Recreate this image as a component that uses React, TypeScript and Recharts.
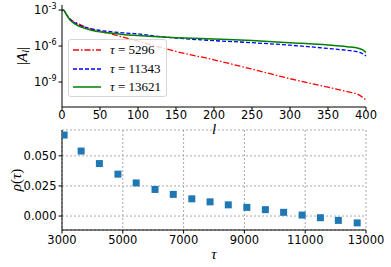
import React from 'react';
import {
  LineChart,
  Line,
  ScatterChart,
  Scatter,
  XAxis,
  YAxis,
  CartesianGrid,
  Legend
} from 'recharts';

// top panel: |A_l| against l, values kept as log10 exponents
const ELL = [0, 2, 5, 10, 15, 20, 30, 40, 50, 60, 80, 100, 120, 150, 200, 250, 300, 350, 375, 390, 395, 400];
const LOG_A_5296 = [-3.05, -3.0, -3.25, -3.7, -3.95, -4.1, -4.39, -4.6, -4.78, -4.92, -5.25, -5.6, -5.95, -6.45, -7.15, -7.92, -8.72, -9.43, -9.8, -10.05, -10.25, -10.5];
const LOG_A_11343 = [-3.05, -3.0, -3.3, -3.75, -4.0, -4.18, -4.43, -4.6, -4.7, -4.78, -4.9, -4.99, -5.15, -5.33, -5.55, -5.72, -5.93, -6.2, -6.36, -6.5, -6.62, -6.83];
const LOG_A_13621 = [-3.05, -3.0, -3.3, -3.8, -4.08, -4.27, -4.53, -4.7, -4.82, -4.9, -5.03, -5.12, -5.2, -5.3, -5.42, -5.54, -5.72, -5.91, -6.05, -6.18, -6.3, -6.53];
const L_TICKS = [0, 50, 100, 150, 200, 250, 300, 350, 400];
const A_TICKS = [1e-9, 1e-6, 1e-3];

// bottom panel: rho(tau)
const TAU = [3070, 3630, 4230, 4840, 5440, 6060, 6660, 7270, 7870, 8470, 9080, 9690, 10290, 10900, 11500, 12090, 12710];
const RHO = [0.0673, 0.054, 0.0436, 0.0348, 0.0275, 0.0221, 0.018, 0.0143, 0.0118, 0.0093, 0.0072, 0.0053, 0.0031, 0.0008, -0.0014, -0.0036, -0.0057];
const TAU_TICKS = [3000, 5000, 7000, 9000, 11000, 13000];
const RHO_TICKS = [0, 0.025, 0.05];

const SERIES = [
  { key: 't5296', label: '5296', color: '#ff0000', dash: '6 2 1.5 2', width: 1.3, exps: LOG_A_5296 },
  { key: 't11343', label: '11343', color: '#0000ff', dash: '4 2', width: 1.3, exps: LOG_A_11343 },
  { key: 't13621', label: '13621', color: '#008000', dash: undefined, width: 1.5, exps: LOG_A_13621 },
];

const topData = ELL.map((l, i) => {
  const row: any = { l };
  SERIES.forEach(s => { row[s.key] = Math.pow(10, s.exps[i]); });
  return row;
});

const bottomData = TAU.map((tau, i) => ({ tau, rho: RHO[i] }));

const TICK_FONT = { fontSize: 11.5, fill: '#000', fontFamily: 'DejaVu Sans' };
const MATH_FONT = 'Liberation Serif';

const LogTick = (props: any) => {
  const { x, y, payload } = props;
  const exp = Math.round(Math.log10(payload.value));
  return (
    <text x={x} y={y + 4} textAnchor="end" fontFamily="DejaVu Sans" fill="#000" fontSize={11.5}>
      <tspan>10</tspan>
      <tspan dy={-5} fontSize={8}>{'-' + Math.abs(exp)}</tspan>
    </text>
  );
};

const VLabel = (props: any) => {
  const { viewBox, dx, children } = props;
  const cx = viewBox.x + dx;
  const cy = viewBox.y + viewBox.height / 2;
  return (
    <text
      x={cx}
      y={cy}
      transform={`rotate(-90 ${cx} ${cy})`}
      textAnchor="middle"
      dominantBaseline="central"
      fontFamily={MATH_FONT}
      fontSize={15}
      fill="#000"
    >
      {children}
    </text>
  );
};

const LegendBox = () => (
  <div
    style={{
      border: '1px solid #d6d6d6',
      borderRadius: 3,
      background: 'rgba(255,255,255,0.8)',
      width: 99,
      height: 58,
      paddingTop: 1,
      boxSizing: 'border-box',
    }}
  >
    {SERIES.map(s => (
      <div key={s.key} style={{ display: 'flex', alignItems: 'center', height: 18.4 }}>
        <svg width={32} height={6} style={{ display: 'block' }}>
          <line x1={4} x2={32} y1={3} y2={3} stroke={s.color} strokeWidth={s.width} strokeDasharray={s.dash} />
        </svg>
        <span style={{ marginLeft: 9, fontFamily: MATH_FONT, fontSize: 13, color: '#000', whiteSpace: 'nowrap' }}>
          <i>τ</i> = {s.label}
        </span>
      </div>
    ))}
  </div>
);

const Square = (props: any) => {
  const { cx, cy } = props;
  return <rect x={cx - 3.5} y={cy - 3.5} width={7} height={7} fill="#1f77b4" />;
};

export default function App() {
  return (
    <div style={{ position: 'absolute', left: 0, top: 0, width: 391, height: 267, background: '#fff' }}>
      <div style={{ position: 'absolute', left: 0, top: 120 }}>
        <ScatterChart width={391} height={147} margin={{ top: 10, right: 25, bottom: 17, left: 0 }}>
          <CartesianGrid strokeDasharray="2 2" stroke="#a8a8a8" />
          <XAxis
            dataKey="tau"
            type="number"
            domain={[3000, 13000]}
            ticks={TAU_TICKS}
            allowDataOverflow
            height={20}
            tickSize={3.5}
            tickMargin={2}
            tick={TICK_FONT}
            stroke="#000"
            label={{ value: 'τ', position: 'bottom', offset: -2, style: { fontFamily: MATH_FONT, fontStyle: 'italic', fontSize: 15, fill: '#000' } }}
          />
          <XAxis xAxisId="top" orientation="top" dataKey="tau" type="number" domain={[3000, 13000]} height={0} tick={false} tickLine={false} stroke="#000" />
          <YAxis
            dataKey="rho"
            type="number"
            domain={[-0.0116, 0.0715]}
            ticks={RHO_TICKS}
            allowDataOverflow
            width={62}
            tickSize={3.5}
            tickMargin={2}
            tick={TICK_FONT}
            tickFormatter={(v: number) => v.toFixed(3)}
            stroke="#000"
            label={<VLabel dx={16}><tspan fontStyle="italic">ρ</tspan>(<tspan fontStyle="italic">τ</tspan>)</VLabel>}
          />
          <YAxis yAxisId="right" orientation="right" width={0} tick={false} tickLine={false} stroke="#000" />
          <Scatter data={bottomData} shape={<Square />} isAnimationActive={false} />
        </ScatterChart>
      </div>
      <div style={{ position: 'absolute', left: 0, top: 0 }}>
        <LineChart width={391} height={140} data={topData} margin={{ top: 5, right: 25, bottom: 15, left: 0 }}>
          <XAxis
            dataKey="l"
            type="number"
            domain={[0, 400]}
            ticks={L_TICKS}
            height={18}
            tickSize={3.5}
            tickMargin={0}
            tick={TICK_FONT}
            stroke="#000"
            label={{ value: 'l', position: 'bottom', offset: -2, style: { fontFamily: MATH_FONT, fontStyle: 'italic', fontSize: 15, fill: '#000' } }}
          />
          <XAxis xAxisId="top" orientation="top" dataKey="l" type="number" domain={[0, 400]} height={0} tick={false} tickLine={false} stroke="#000" />
          <YAxis
            scale="log"
            type="number"
            domain={[Math.pow(10, -11.08), Math.pow(10, -2.58)]}
            ticks={A_TICKS}
            allowDataOverflow
            width={62}
            tickSize={3.5}
            tickMargin={2}
            tick={<LogTick />}
            stroke="#000"
            label={
              <VLabel dx={22}>
                |<tspan fontStyle="italic">A</tspan>
                <tspan fontStyle="italic" fontSize={10} dy={3}>l</tspan>
                <tspan dy={-3}>|</tspan>
              </VLabel>
            }
          />
          <YAxis yAxisId="right" orientation="right" width={0} tick={false} tickLine={false} stroke="#000" />
          {SERIES.map(s => (
            <Line
              key={s.key}
              dataKey={s.key}
              type="monotone"
              stroke={s.color}
              strokeWidth={s.width}
              strokeDasharray={s.dash}
              dot={false}
              isAnimationActive={false}
            />
          ))}
          <Legend
            content={<LegendBox />}
            layout="vertical"
            align="center"
            verticalAlign="middle"
            wrapperStyle={{ left: 68, top: 39, width: 101, height: 60 }}
          />
        </LineChart>
      </div>
    </div>
  );
}
